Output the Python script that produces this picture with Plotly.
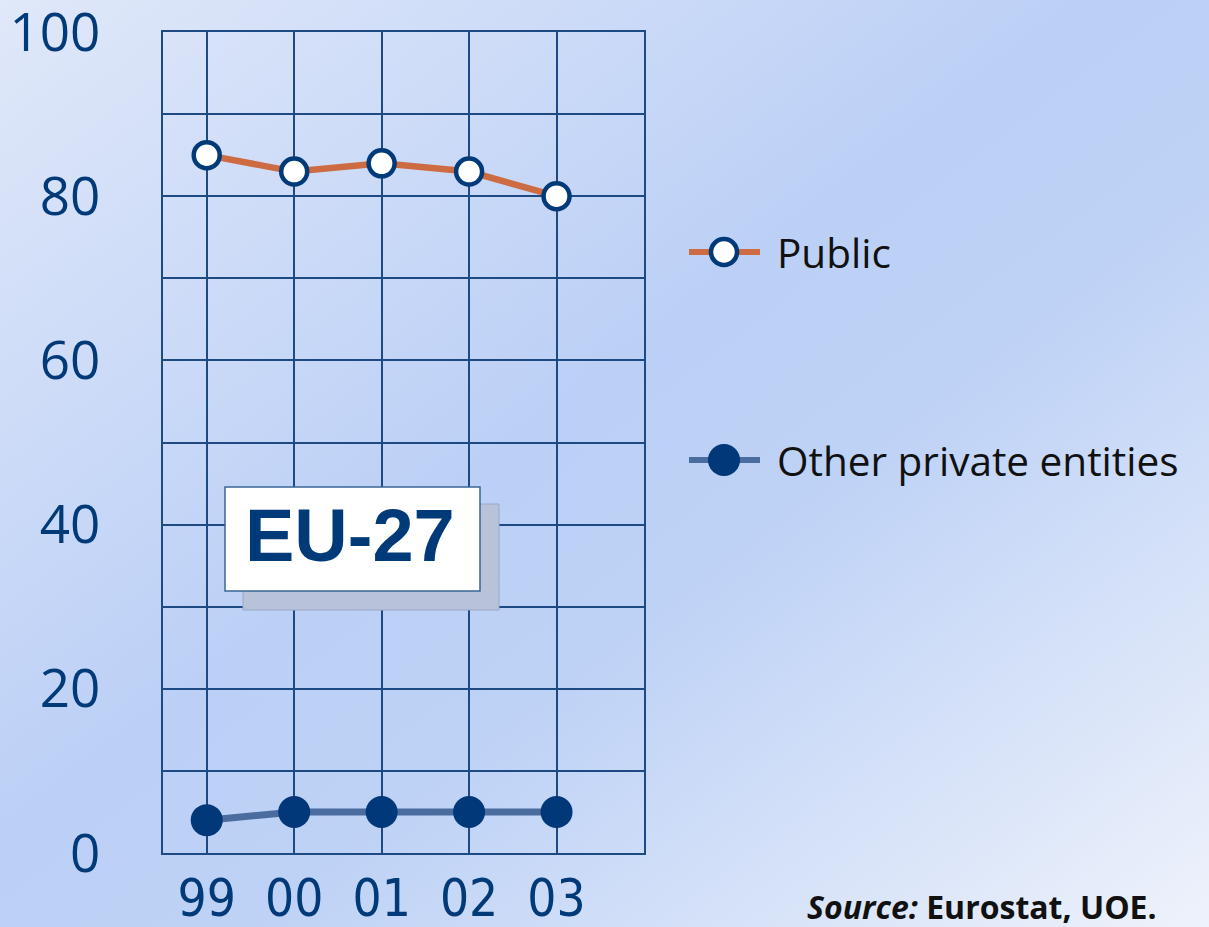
import base64
import plotly.graph_objects as go

# ---- data ----
years = ["99", "00", "01", "02", "03"]
public = [85, 83, 84, 83, 80]
other_private = [4, 5, 5, 5, 5]
series_names = ["Public", "Other private entities"]
y_ticks = [0, 20, 40, 60, 80, 100]
region_label = "EU-27"
source_text = "<b><i>Source:</i> Eurostat, UOE.</b>"

# ---- geometry ----
W, H = 1209, 927
L, R, T, B = 163, W - 644, 32, H - 853
PW, PH = W - L - R, H - T - B

def px(x):
    return (x - L) / PW

def py(y):
    return (H - B - y) / PH

NAVY = "#003A78"
GRID = "#1D4A82"
ORANGE = "#CD6B43"
STEEL = "#4B6C9F"

# gradient background as svg
svg = f'''<svg xmlns="http://www.w3.org/2000/svg" width="{W}" height="{H}" viewBox="0 0 {W} {H}" preserveAspectRatio="none">
<defs><linearGradient id="g" x1="0" y1="0" x2="1" y2="1">
<stop offset="0" stop-color="#E0E8F9"/>
<stop offset="0.45" stop-color="#BCD0F6"/>
<stop offset="0.6" stop-color="#BED2F6"/>
<stop offset="1" stop-color="#EEF2FB"/>
</linearGradient></defs>
<rect x="0" y="0" width="{W}" height="{H}" fill="url(#g)"/></svg>'''
src = "data:image/svg+xml;base64," + base64.b64encode(svg.encode()).decode()

xi = list(range(len(years)))

fig = go.Figure()
fig.add_trace(go.Scatter(
    x=xi, y=public, name=series_names[0], mode="lines+markers",
    line=dict(color=ORANGE, width=6.5),
    marker=dict(size=26, color="white", line=dict(color=NAVY, width=4.5)),
    showlegend=False, cliponaxis=False,
))
fig.add_trace(go.Scatter(
    x=xi, y=other_private, name=series_names[1], mode="lines+markers",
    line=dict(color=STEEL, width=7),
    marker=dict(size=32, color="#00387A"),
    showlegend=False, cliponaxis=False,
))

shapes = []
# EU-27 box shadow and box
shapes.append(dict(type="rect", xref="paper", yref="paper",
                   x0=px(243), x1=px(499), y0=py(610), y1=py(504),
                   fillcolor="#B8C3DA", line=dict(color="#98A8C6", width=1), layer="above"))
shapes.append(dict(type="rect", xref="paper", yref="paper",
                   x0=px(225), x1=px(480), y0=py(591), y1=py(487),
                   fillcolor="white", line=dict(color="#3A6597", width=1.5), layer="above"))

# custom legend keys
leg_rows = [(252, ORANGE, "white", NAVY, 26, 4.5), (460, STEEL, "#00387A", "#00387A", 32, 0)]
annotations = []
for (yy, lc, fc, bc, d, bw), name in zip(leg_rows, series_names):
    shapes.append(dict(type="line", xref="paper", yref="paper",
                       x0=px(689), x1=px(760), y0=py(yy), y1=py(yy),
                       line=dict(color=lc, width=6), layer="above"))
    r = d / 2
    shapes.append(dict(type="circle", xref="paper", yref="paper",
                       x0=px(724 - r), x1=px(724 + r), y0=py(yy + r), y1=py(yy - r),
                       fillcolor=fc, line=dict(color=bc, width=bw if bw else 0.1), layer="above"))
    annotations.append(dict(text=name, xref="paper", yref="paper", x=px(775), y=py(yy),
                            xanchor="left", yanchor="middle", showarrow=False,
                            font=dict(family="Open Sans", size=40.5, color="#111111")))

annotations.append(dict(text=f"<b>{region_label}</b>", xref="paper", yref="paper",
                        x=px(350), y=py(535), xanchor="center", yanchor="middle", showarrow=False,
                        font=dict(family="Liberation Sans, Arial", size=74, color=NAVY)))
annotations.append(dict(text=source_text, xref="paper", yref="paper",
                        x=px(805), y=py(883), xanchor="left", yanchor="top", showarrow=False,
                        font=dict(family="Open Sans", size=32, color="#111111")))

fig.update_layout(
    width=W, height=H,
    margin=dict(l=L, r=R, t=T, b=B, autoexpand=False),
    paper_bgcolor="rgba(0,0,0,0)", plot_bgcolor="rgba(0,0,0,0)",
    images=[dict(source=src, xref="paper", yref="paper", x=px(0), y=py(0),
                 sizex=W / PW, sizey=H / PH, sizing="stretch", xanchor="left", yanchor="top",
                 layer="below")],
    shapes=shapes, annotations=annotations, showlegend=False,
    xaxis=dict(range=[-0.5, 5], tickvals=xi, ticktext=years, showgrid=True, automargin=False,
               gridcolor=GRID, gridwidth=2, showline=True, linecolor=GRID, linewidth=2,
               mirror=True, ticks="", zeroline=False, ticklabelstandoff=0,
               ticklabeloverflow="allow",
               tickfont=dict(family="Liberation Sans Narrow, DejaVu Sans Condensed, Open Sans",
                             size=51, color=NAVY)),
    yaxis=dict(range=[0, 100], tickvals=y_ticks, showgrid=True, automargin=False,
               gridcolor=GRID, gridwidth=2, showline=True, linecolor=GRID, linewidth=2,
               mirror=True, ticks="", zeroline=False, ticklabelstandoff=50,
               ticklabeloverflow="allow",
               tickfont=dict(family="Open Sans", size=53, color=NAVY)),
)
# minor gridlines every 10
fig.update_yaxes(minor=dict(dtick=10, showgrid=True, gridcolor=GRID, gridwidth=2, ticks=""))

fig.write_html("out.html")
